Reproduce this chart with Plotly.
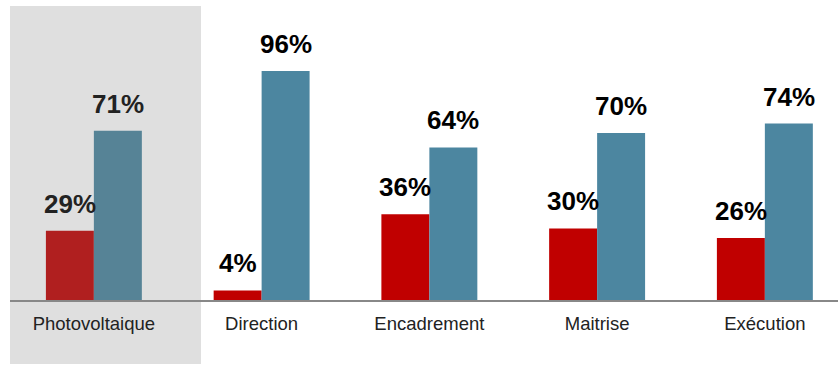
import plotly.graph_objects as go

categories = ["Photovoltaique", "Direction", "Encadrement", "Maitrise", "Exécution"]
share_red = [29, 4, 36, 30, 26]
share_blue = [71, 96, 64, 70, 74]

highlight_index = 0

red_base, red_hl = "#C00000", "#B01F1F"
blue_base, blue_hl = "#4C86A0", "#568396"
label_base, label_hl = "#000000", "#222222"

red_colors = [red_hl if i == highlight_index else red_base for i in range(len(categories))]
blue_colors = [blue_hl if i == highlight_index else blue_base for i in range(len(categories))]

fig = go.Figure()
fig.add_trace(go.Bar(x=categories, y=share_red, marker=dict(color=red_colors, line=dict(width=0)),
                     offsetgroup="a", hoverinfo="skip"))
fig.add_trace(go.Bar(x=categories, y=share_blue, marker=dict(color=blue_colors, line=dict(width=0)),
                     offsetgroup="b", hoverinfo="skip"))

# value labels above each bar
bar_px = 48
for i, cat in enumerate(categories):
    col = label_hl if i == highlight_index else label_base
    for vals, shift in ((share_red, -bar_px / 2), (share_blue, bar_px / 2)):
        fig.add_annotation(x=cat, y=vals[i], text=f"<b>{vals[i]}%</b>", showarrow=False,
                           xref="x", yref="y", xshift=shift, yanchor="bottom", yshift=10,
                           font=dict(family="Liberation Sans, Arial", size=26, color=col))

# grey highlight panel behind the first category
fig.add_shape(type="rect", xref="x", yref="paper", x0=highlight_index - 0.524, x1=highlight_index + 0.6386,
              y0=-0.213, y1=0.98, fillcolor="#DFDFDF", line=dict(width=0), layer="below")

fig.update_layout(
    width=838, height=365,
    margin=dict(l=10, r=0, t=0, b=65),
    paper_bgcolor="white", plot_bgcolor="rgba(0,0,0,0)",
    showlegend=False,
    bargap=0.428, bargroupgap=0,
    font=dict(family="Liberation Sans, Arial", size=18, color="#222222"),
)
fig.update_xaxes(range=[-0.5, 4.436], showline=True, linecolor="#888888", linewidth=2,
                 ticks="", showgrid=False, zeroline=False, ticklabelstandoff=6,
                 tickfont=dict(family="Liberation Sans, Arial", size=18.5, color="#222222"))
fig.update_yaxes(range=[0, 125.8], visible=False, showgrid=False, zeroline=False)

fig.write_html("out.html")
